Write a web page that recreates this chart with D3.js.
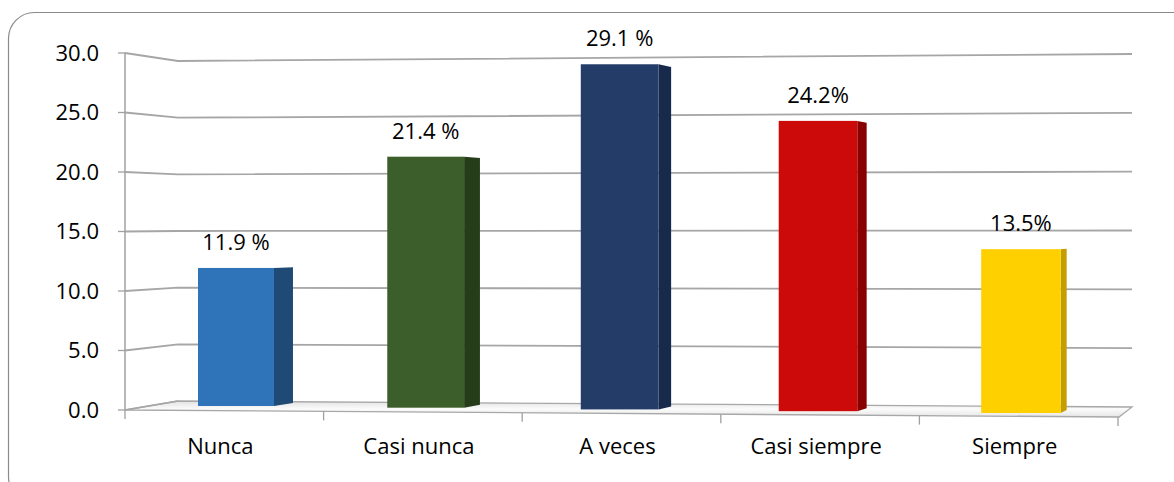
<!DOCTYPE html>
<html>
<head>
<meta charset="utf-8">
<script src="https://cdn.jsdelivr.net/npm/d3@7"></script>
<style>
  body { margin: 0; background: #fff; }
  text { font-family: "Open Sans", "Noto Sans", sans-serif; fill: #000; }
</style>
</head>
<body>
<div id="main"></div>
<script>
const W = 1174;
const H = 482;

// data
const categories = ["Nunca", "Casi nunca", "A veces", "Casi siempre", "Siempre"];
const values = [11.9, 21.4, 29.1, 24.2, 13.5];
const valueLabels = ["11.9 %", "21.4 %", "29.1 %", "24.2%", "13.5%"];
const frontColors = ["#2f74b8", "#3c5e2a", "#243d68", "#cc0a0a", "#ffd000"];
const sideColors = ["#1f4a76", "#263d1a", "#172a4c", "#880000", "#c49e00"];
const yTicks = [0, 5, 10, 15, 20, 25, 30];

// plot geometry (3D look)
var geo = {
    wallLeft: 125, wallBack: 178, wallRight: 1132, floorRight: 1119,
    K: -0.011,          // perspective factor along the category axis
    vanish: [1424, 230],
    sideT: 0.0165,
};

var depth = function(i){ return 1 / (1 + geo.K * i); };

var svg = d3.select("#main").append("svg")
    .attr("width", W).attr("height", H);

// rounded frame
svg.append("rect")
    .attr("x", 8.5).attr("y", 12.5)
    .attr("width", 1200).attr("height", 490)
    .attr("rx", 26)
    .style("fill", "none").style("stroke", "#8a8a8a").style("stroke-width", 1.2);

// y scales on the walls
var yFront = d3.scaleLinear().domain([0, 30]).range([410, 53]);
var yBackL = d3.scaleLinear().domain([0, 30]).range([401, 61]);
var yBackR = d3.scaleLinear().domain([0, 30]).range([407, 54]);
var frontEdge = d3.scaleLinear().domain([geo.wallLeft, geo.floorRight]).range([410, 417]);

// floor
var floorPts = [
    [geo.wallLeft, yFront(0)], [geo.floorRight, frontEdge(geo.floorRight)],
    [geo.wallRight, yBackR(0)], [geo.wallBack, yBackL(0)]
];
var defs = svg.append("defs");
var fg = defs.append("linearGradient").attr("id", "floorGrad")
    .attr("x1", 0).attr("y1", 0).attr("x2", 0).attr("y2", 1);
fg.append("stop").attr("offset", "0%").attr("stop-color", "#e2e2e2");
fg.append("stop").attr("offset", "50%").attr("stop-color", "#fbfbfb");
fg.append("stop").attr("offset", "100%").attr("stop-color", "#e6e6e6");

svg.append("path")
    .attr("d", d3.line()(floorPts) + "Z")
    .style("fill", "url(#floorGrad)")
    .style("stroke", "#a8a8a8").style("stroke-width", 1.3);

// gridlines: left wall + back wall
var grid = svg.append("g").attr("id", "grid");
grid.selectAll("path.gl")
    .data(yTicks.filter(function(t){ return t > 0; }))
    .enter()
    .append("path")
    .attr("class", "gl")
    .attr("d", function(t){
        return d3.line()([[geo.wallLeft, yFront(t)], [geo.wallBack, yBackL(t)], [geo.wallRight, yBackR(t)]]);
    })
    .style("fill", "none").style("stroke", "#a6a6a6").style("stroke-width", 1.8);
grid.append("path")
    .attr("d", d3.line()([[geo.wallLeft, yFront(0)], [geo.wallBack, yBackL(0)]]))
    .style("fill", "none").style("stroke", "#a6a6a6").style("stroke-width", 1.5);

// y axis
svg.append("line")
    .attr("x1", geo.wallLeft).attr("x2", geo.wallLeft)
    .attr("y1", yFront(30)).attr("y2", yFront(0))
    .style("stroke", "#a0a0a0").style("stroke-width", 1.5);

var yAx = svg.append("g").attr("id", "yaxis");
yAx.selectAll("line")
    .data(yTicks).enter().append("line")
    .attr("x1", geo.wallLeft - 7).attr("x2", geo.wallLeft)
    .attr("y1", function(t){ return yFront(t); })
    .attr("y2", function(t){ return yFront(t); })
    .style("stroke", "#a0a0a0").style("stroke-width", 1.3);
yAx.selectAll("text")
    .data(yTicks).enter().append("text")
    .attr("x", 99)
    .attr("y", function(t){ return yFront(t); })
    .attr("dy", "0.36em")
    .attr("text-anchor", "end")
    .style("font-size", "22px")
    .text(function(t){ return d3.format(".1f")(t); });

// x axis (front edge of the floor)
var xFront = d3.scaleBand().domain(categories).range([geo.wallLeft, geo.floorRight - 1]);
var xEdges = categories.map(function(c){ return xFront(c); }).concat([geo.floorRight - 1]);
svg.append("g").selectAll("line")
    .data(xEdges).enter().append("line")
    .attr("x1", function(x){ return x; }).attr("x2", function(x){ return x; })
    .attr("y1", function(x){ return frontEdge(x); })
    .attr("y2", function(x){ return frontEdge(x) + 9; })
    .style("stroke", "#a0a0a0").style("stroke-width", 1.3);

svg.append("g").selectAll("text")
    .data(categories).enter().append("text")
    .attr("x", function(c){ return xFront(c) + xFront.bandwidth() / 2 - 4; })
    .attr("y", 454)
    .attr("text-anchor", "middle")
    .style("font-size", "22px")
    .text(function(c){ return c; });

// bars
var idx = d3.scalePoint().domain(categories).range([0, categories.length - 1]);
var xWorld = d3.scaleLinear().domain([0, categories.length - 1]).range([236, 986.4]);
var yWorld = d3.scaleLinear().domain([0, 30]).range([406, 406 - 30 * 11.6]);
var horizon = 254;

var barCx = function(c){ var i = idx(c); return xWorld(0) + (xWorld(i) - xWorld(0)) * depth(i); };
var barY = function(c, v){ return horizon + (yWorld(v) - horizon) * depth(idx(c)); };
var barW = function(c){ return 76 * depth(idx(c)); };

var barData = categories.map(function(c, i){
    return {cat: c, value: values[i], label: valueLabels[i], front: frontColors[i], side: sideColors[i]};
});

var toV = function(p){
    return [p[0] + (geo.vanish[0] - p[0]) * geo.sideT, p[1] + (geo.vanish[1] - p[1]) * geo.sideT];
};

var bars = svg.append("g").attr("id", "bars")
    .selectAll("g.bar").data(barData).enter()
    .append("g").attr("class", "bar");

bars.append("path")
    .attr("d", function(d){
        var xr = barCx(d.cat) + barW(d.cat) / 2;
        var yt = barY(d.cat, d.value), yb = barY(d.cat, 0);
        return d3.line()([[xr, yt], toV([xr, yt]), toV([xr, yb]), [xr, yb]]) + "Z";
    })
    .style("fill", function(d){ return d.side; });

bars.append("rect")
    .attr("x", function(d){ return barCx(d.cat) - barW(d.cat) / 2; })
    .attr("y", function(d){ return barY(d.cat, d.value); })
    .attr("width", function(d){ return barW(d.cat); })
    .attr("height", function(d){ return barY(d.cat, 0) - barY(d.cat, d.value); })
    .style("fill", function(d){ return d.front; });

bars.append("text")
    .attr("x", function(d){ return barCx(d.cat); })
    .attr("y", function(d){ return barY(d.cat, d.value) - 18; })
    .attr("text-anchor", "middle")
    .style("font-size", "22px")
    .text(function(d){ return d.label; });
</script>
</body>
</html>
